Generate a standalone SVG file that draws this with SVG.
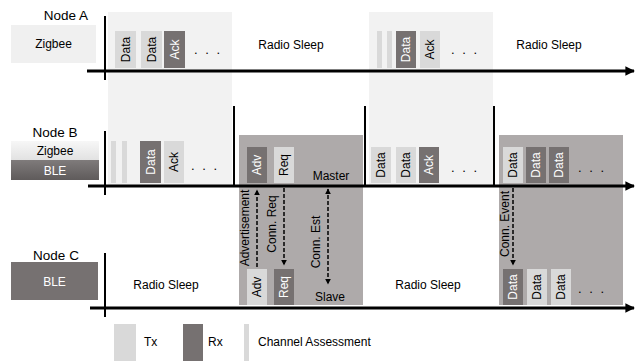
<svg xmlns="http://www.w3.org/2000/svg" width="642" height="362" viewBox="0 0 642 362">
<style>
text{font-family:"Liberation Sans",Arial,sans-serif;font-size:12px;fill:#000}
.lbl{font-size:13.5px}
.dots{font-size:13px;letter-spacing:2px}
.w{fill:#fff}
.tx{fill:#d9d9d9}
.rx{fill:#767171}
.ca{fill:#d9d9d9}
.bgl{fill:#f2f2f2}
.bgd{fill:#aeaaaa}
.ax{stroke:#000;stroke-width:3;fill:none}
.vl{stroke:#000;stroke-width:2;fill:none}
.dash{stroke:#000;stroke-width:1.5;stroke-dasharray:4,2;fill:none}
</style>
<defs>
<marker id="ah" viewBox="0 0 10 10" refX="9" refY="5" markerWidth="4" markerHeight="4" orient="auto-start-reverse"><path d="M0,0 L10,5 L0,10 z" fill="#000"/></marker>
<marker id="big" viewBox="0 0 10 10" refX="9" refY="5" markerWidth="3.2" markerHeight="4" orient="auto"><path d="M0,0 L10,5 L0,10 z" fill="#000"/></marker>
<linearGradient id="gz" x1="0" y1="0" x2="0" y2="1"><stop offset="0" stop-color="#f7f7f7"/><stop offset="1" stop-color="#e2e2e2"/></linearGradient>
<linearGradient id="gb" x1="0" y1="0" x2="0" y2="1"><stop offset="0" stop-color="#7f7b7b"/><stop offset="1" stop-color="#5f5b5b"/></linearGradient>
</defs>

<g id="backgrounds">
<rect class="bgl" x="108" y="12" width="124" height="173"/>
<rect class="bgl" x="369" y="12" width="124" height="173"/>
<rect class="bgd" x="239" y="135" width="124" height="170"/>
<rect class="bgd" x="499" y="135" width="124" height="170"/>
</g>

<g id="nodeA">
<text class="lbl" x="66" y="20" text-anchor="middle">Node A</text>
<rect x="11" y="25" width="85" height="38" fill="#f0f0f0"/>
<text x="53.5" y="48" text-anchor="middle">Zigbee</text>
<rect class="tx" x="115" y="31" width="21" height="37"/>
<text transform="translate(125.5,49.5) rotate(-90)" text-anchor="middle" dy="0.35em">Data</text>
<rect class="tx" x="141" y="31" width="21" height="37"/>
<text transform="translate(151.5,49.5) rotate(-90)" text-anchor="middle" dy="0.35em">Data</text>
<rect class="rx" x="164" y="31" width="21" height="37"/>
<text class="w" transform="translate(174.5,49.5) rotate(-90)" text-anchor="middle" dy="0.35em">Ack</text>
<text class="dots" x="208" y="54" text-anchor="middle">. . .</text>
<text x="291" y="49" text-anchor="middle">Radio Sleep</text>
<rect class="ca" x="377" y="31" width="5" height="37"/>
<rect class="ca" x="387" y="31" width="5" height="37"/>
<rect class="rx" x="396" y="31" width="20" height="37"/>
<text class="w" transform="translate(406,49.5) rotate(-90)" text-anchor="middle" dy="0.35em">Data</text>
<rect class="tx" x="420" y="31" width="20" height="37"/>
<text transform="translate(430,49.5) rotate(-90)" text-anchor="middle" dy="0.35em">Ack</text>
<text class="dots" x="465" y="54" text-anchor="middle">. . .</text>
<text x="549" y="49" text-anchor="middle">Radio Sleep</text>
</g>

<g id="nodeB">
<text class="lbl" x="55" y="137" text-anchor="middle">Node B</text>
<rect x="11" y="141" width="88" height="19" fill="url(#gz)"/>
<text x="55" y="155" text-anchor="middle">Zigbee</text>
<rect x="11" y="160" width="88" height="20" fill="url(#gb)"/>
<text class="w" x="55" y="175" text-anchor="middle">BLE</text>
<rect class="ca" x="111" y="141" width="5" height="42"/>
<rect class="ca" x="122" y="141" width="5" height="42"/>
<rect class="rx" x="140" y="141" width="21" height="42"/>
<text class="w" transform="translate(150.5,162) rotate(-90)" text-anchor="middle" dy="0.35em">Data</text>
<rect class="tx" x="164" y="141" width="20" height="42"/>
<text transform="translate(174,162) rotate(-90)" text-anchor="middle" dy="0.35em">Ack</text>
<text class="dots" x="205" y="170" text-anchor="middle">. . .</text>
<rect class="rx" x="247" y="147" width="20" height="36"/>
<text class="w" transform="translate(257,165) rotate(-90)" text-anchor="middle" dy="0.35em">Adv</text>
<rect class="tx" x="274" y="147" width="20" height="36"/>
<text transform="translate(284,165) rotate(-90)" text-anchor="middle" dy="0.35em">Req</text>
<text x="331" y="180" text-anchor="middle">Master</text>
<rect class="tx" x="371" y="147" width="20" height="36"/>
<text transform="translate(381,165) rotate(-90)" text-anchor="middle" dy="0.35em">Data</text>
<rect class="tx" x="396" y="147" width="20" height="36"/>
<text transform="translate(406,165) rotate(-90)" text-anchor="middle" dy="0.35em">Data</text>
<rect class="rx" x="419" y="147" width="20" height="36"/>
<text class="w" transform="translate(429,165) rotate(-90)" text-anchor="middle" dy="0.35em">Ack</text>
<text class="dots" x="465" y="172" text-anchor="middle">. . .</text>
<rect class="tx" x="503" y="147" width="20" height="36"/>
<text transform="translate(513,165) rotate(-90)" text-anchor="middle" dy="0.35em">Data</text>
<rect class="rx" x="526" y="147" width="20" height="36"/>
<text class="w" transform="translate(536,165) rotate(-90)" text-anchor="middle" dy="0.35em">Data</text>
<rect class="rx" x="549" y="147" width="20" height="36"/>
<text class="w" transform="translate(559,165) rotate(-90)" text-anchor="middle" dy="0.35em">Data</text>
<text class="dots" x="592" y="172" text-anchor="middle">. . .</text>
</g>

<g id="nodeC">
<text class="lbl" x="56" y="260" text-anchor="middle">Node C</text>
<rect class="rx" x="11" y="262" width="87" height="38"/>
<text class="w" x="54.5" y="286" text-anchor="middle">BLE</text>
<text x="166" y="289" text-anchor="middle">Radio Sleep</text>
<rect class="tx" x="247" y="269" width="20" height="36"/>
<text transform="translate(257,287) rotate(-90)" text-anchor="middle" dy="0.35em">Adv</text>
<rect class="rx" x="274" y="269" width="20" height="36"/>
<text class="w" transform="translate(284,287) rotate(-90)" text-anchor="middle" dy="0.35em">Req</text>
<text x="330" y="301" text-anchor="middle">Slave</text>
<text x="428" y="289" text-anchor="middle">Radio Sleep</text>
<rect class="rx" x="503" y="269" width="20" height="36"/>
<text class="w" transform="translate(513,287) rotate(-90)" text-anchor="middle" dy="0.35em">Data</text>
<rect class="tx" x="527" y="269" width="20" height="36"/>
<text transform="translate(537,287) rotate(-90)" text-anchor="middle" dy="0.35em">Data</text>
<rect class="tx" x="551" y="269" width="20" height="36"/>
<text transform="translate(561,287) rotate(-90)" text-anchor="middle" dy="0.35em">Data</text>
<text class="dots" x="592" y="293" text-anchor="middle">. . .</text>
</g>

<g id="axes">
<path class="vl" d="M105,16 V80"/>
<path class="ax" d="M87,71 H634" marker-end="url(#big)"/>
<path class="vl" d="M105,131 V195"/>
<path class="vl" d="M234,106 V185"/>
<path class="vl" d="M365,106 V185"/>
<path class="vl" d="M494,106 V185"/>
<path class="ax" d="M88,186 H634" marker-end="url(#big)"/>
<path class="vl" d="M105,253 V317"/>
<path class="ax" d="M90,308 H634" marker-end="url(#big)"/>
</g>

<g id="connectors">
<path class="dash" d="M257,267 V190" marker-end="url(#ah)"/>
<text transform="translate(245,228) rotate(-90)" text-anchor="middle" dy="0.35em">Advertisement</text>
<path class="dash" d="M284,188 V265" marker-end="url(#ah)"/>
<text transform="translate(272,224) rotate(-90)" text-anchor="middle" dy="0.35em">Conn. Req</text>
<path class="dash" d="M328,189 V284" marker-start="url(#ah)" marker-end="url(#ah)"/>
<text transform="translate(316,242) rotate(-90)" text-anchor="middle" dy="0.35em">Conn. Est</text>
<path class="dash" d="M513,188 V265" marker-end="url(#ah)"/>
<text transform="translate(505,224) rotate(-90)" text-anchor="middle" dy="0.35em">Conn. Event</text>
</g>

<g id="legend">
<rect class="tx" x="114" y="324" width="22" height="37"/>
<text x="144" y="346">Tx</text>
<rect class="rx" x="183" y="324" width="20" height="37"/>
<text x="208" y="346">Rx</text>
<rect class="ca" x="244" y="324" width="5" height="37"/>
<text x="258" y="346">Channel Assessment</text>
</g>
</svg>
